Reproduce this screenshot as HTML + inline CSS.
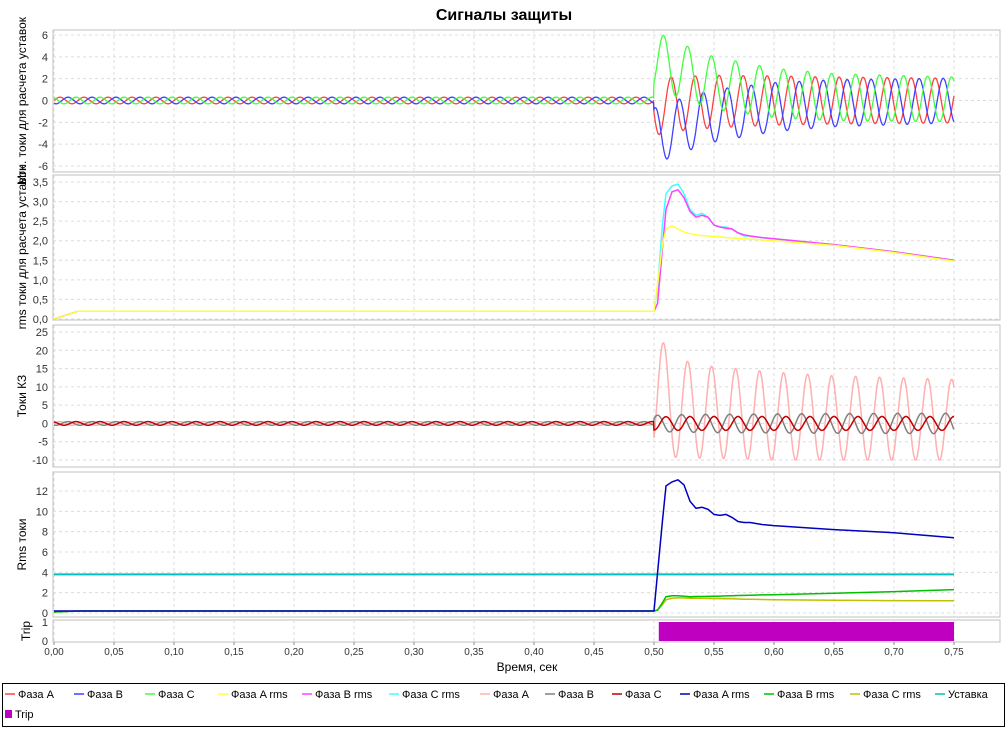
<!DOCTYPE html>
<html><head><meta charset="utf-8"><style>
body{margin:0;background:#fff;font-family:"Liberation Sans",sans-serif;}
svg text{font-family:"Liberation Sans",sans-serif;}
</style></head><body>
<svg id="c" width="1008" height="729" xmlns="http://www.w3.org/2000/svg">
<text x="504" y="20" text-anchor="middle" font-size="16" font-weight="bold">Сигналы защиты</text>
</svg>
<script>
const xTicks=["0,00","0,05","0,10","0,15","0,20","0,25","0,30","0,35","0,40","0,45","0,50","0,55","0,60","0,65","0,70","0,75"];
const envT=[0.5,0.52,0.55,0.6,0.65,0.75];
const p1Amp=[2.6,2.5,2.4,2.25,2.15,2.05];
const p1DcA=[-0.6,-0.3,-0.1,0,0,0];
const p1DcB=[-3.3,-2.4,-1.4,-0.6,-0.25,0];
const p1DcC=[3.8,2.8,1.6,0.7,0.3,0.1];
const p3PinkAmp=[16,13.5,12.5,12,11.5,11];
const p3PinkDc=[9,4,3,2,1.5,1];
const p3GrayAmp=[2.2,2.4,2.5,2.6,2.7,2.8];
const p3RedAmp=[1.8,1.9,1.9,1.9,1.9,1.9];
const rmsT=[0,0.02,0.5,0.503,0.507,0.51,0.515,0.52,0.525,0.53,0.535,0.54,0.545,0.55,0.555,0.56,0.565,0.57,0.575,0.58,0.59,0.6,0.65,0.7,0.75];
const rmsA=[0,0.2,0.2,0.9,1.9,2.3,2.38,2.3,2.22,2.18,2.15,2.13,2.12,2.1,2.1,2.08,2.07,2.06,2.05,2.04,2.02,2.0,1.88,1.7,1.48];
const rmsB=[0,0.2,0.2,0.4,1.8,2.8,3.25,3.3,3.1,2.75,2.6,2.65,2.6,2.4,2.35,2.32,2.3,2.2,2.15,2.12,2.08,2.05,1.9,1.72,1.5];
const rmsC=[0,0.2,0.2,0.8,2.4,3.2,3.4,3.45,3.2,2.8,2.65,2.7,2.6,2.4,2.35,2.35,2.3,2.2,2.12,2.12,2.08,2.05,1.9,1.72,1.5];
const kzA=[0.2,0.2,0.2,4,9,12.5,12.9,13.1,12.6,11,10.3,10.4,10.2,9.7,9.6,9.7,9.4,9,8.9,8.9,8.7,8.6,8.2,7.9,7.4];
const kzB=[0.1,0.2,0.2,0.3,1,1.6,1.7,1.7,1.65,1.6,1.62,1.62,1.63,1.65,1.66,1.68,1.7,1.72,1.73,1.75,1.78,1.8,1.95,2.1,2.3];
const kzC=[0.1,0.2,0.2,0.3,0.8,1.3,1.45,1.5,1.48,1.45,1.45,1.44,1.43,1.42,1.42,1.41,1.4,1.38,1.36,1.35,1.33,1.3,1.25,1.22,1.2];
const setpoint=3.8;
const tripOn=0.504, tripOff=0.75;
const panels=[
 {top:30,bot:172,min:-6,max:6,y0:166,y1:35,ticks:[-6,-4,-2,0,2,4,6],label:"Мгн. токи для расчета уставок"},
 {top:175,bot:320,min:0,max:3.5,y0:319,y1:182,ticks:[0,0.5,1,1.5,2,2.5,3,3.5],dec:1,label:"rms токи для расчета уставок"},
 {top:325,bot:467,min:-10,max:25,y0:460,y1:332,ticks:[-10,-5,0,5,10,15,20,25],label:"Токи КЗ"},
 {top:472,bot:617,min:0,max:12,y0:613,y1:491,ticks:[0,2,4,6,8,10,12],label:"Rms токи"},
 {top:620,bot:642,min:0,max:1,y0:641,y1:622,ticks:[0,1],label:"Trip"}];
const NS="http://www.w3.org/2000/svg",svg=document.getElementById('c');
function mk(t,a,p){const e=document.createElementNS(NS,t);for(const k in a)e.setAttribute(k,a[k]);(p||svg).appendChild(e);return e;}
const X=t=>54+t*1200;
const Y=(p,v)=>p.y0+(v-p.min)*(p.y1-p.y0)/(p.max-p.min);
function env(arr,t){if(t<=envT[0])return arr[0];for(let i=1;i<envT.length;i++)if(t<=envT[i]){const f=(t-envT[i-1])/(envT[i]-envT[i-1]);return arr[i-1]+f*(arr[i]-arr[i-1]);}return arr[arr.length-1];}
const W=2*Math.PI*50;
panels.forEach((p,i)=>{
 const g=mk('g',{});
 
 
 mk('rect',{x:53,y:p.top,width:947,height:p.bot-p.top,fill:'#fff',stroke:'#c0c0c0'},g);
 xTicks.forEach((s,k)=>{const x=X(k*0.05);mk('line',{x1:x,x2:x,y1:p.top,y2:p.bot,stroke:'#dcdcdc','stroke-dasharray':'3,3'},g);});
 p.ticks.forEach(v=>{const y=Y(p,v);
  if(i<4)mk('line',{x1:53,x2:1000,y1:y,y2:y,stroke:'#dcdcdc','stroke-dasharray':'3,3'},g);
  const t=mk('text',{x:48,y:y+4,'text-anchor':'end','font-size':11,fill:'#333'},g);
  
  
  t.textContent=p.dec?v.toFixed(1).replace('.',','):String(v);});
 const cy=(p.top+p.bot)/2;
 const lb=mk('text',{x:0,y:0,transform:`translate(${i==4?30:26},${cy}) rotate(-90)`,'text-anchor':'middle','font-size':12},g);
 
 
 lb.textContent=p.label;
});
function wave(p,pre,phPre,phPost,ampArr,dcArr,color,w,name){
 let d='';for(let t=0;t<=0.7501;t+=0.0004){let v;
  if(t<0.5)v=pre*Math.sin(W*t+phPre);else v=env(ampArr,t)*Math.sin(W*t+phPost)+(dcArr?env(dcArr,t):0);
  d+=(d?'L':'M')+X(t).toFixed(1)+' '+Y(p,v).toFixed(1);}
 const e=mk('path',{d,fill:'none',stroke:color,'stroke-width':w||1.3});
 
 }
function line(p,ts,vs,color,name,w){
 const d=ts.map((t,k)=>(k?'L':'M')+X(t).toFixed(1)+' '+Y(p,vs[k]).toFixed(1)).join('');
 const e=mk('path',{d,fill:'none',stroke:color,'stroke-width':w||1.5});
 
 }
const P=Math.PI,[p1,p2,p3,p4,p5]=panels;
wave(p1,0.3,0,1.067*P,p1Amp,p1DcA,'#ff4040',1.3,'phase-a-line');
wave(p1,0.3,-2*P/3,0.4*P,p1Amp,p1DcB,'#4040ff',1.3,'phase-b-line');
wave(p1,0.3,2*P/3,-0.3*P,p1Amp,p1DcC,'#40ff40',1.3,'phase-c-line');
line(p2,rmsT,rmsC,'#40ffff','phase-c-rms-line');
line(p2,rmsT,rmsB,'#ff40ff','phase-b-rms-line');
line(p2,rmsT,rmsA,'#ffff40','phase-a-rms-line');
wave(p3,0.5,0,-0.3*P,p3PinkAmp,p3PinkDc,'#ffb0b0',1.5,'fault-phase-a-line');
wave(p3,0.5,-2*P/3,0.2*P,p3GrayAmp,null,'#808080',1.5,'fault-phase-b-line');
wave(p3,0.5,2*P/3,-0.5*P,p3RedAmp,null,'#c00000',1.5,'fault-phase-c-line');
line(p4,[0,0.75],[setpoint,setpoint],'#00c0c0','setpoint-line',2);
line(p4,rmsT,kzC,'#c0c000','fault-phase-c-rms-line');
line(p4,rmsT,kzB,'#00c000','fault-phase-b-rms-line');
line(p4,rmsT,kzA,'#0000c0','fault-phase-a-rms-line');
const tr=mk('rect',{x:X(tripOn),y:Y(p5,1),width:X(tripOff)-X(tripOn),height:Y(p5,0)-Y(p5,1),fill:'#c000c0'});


xTicks.forEach((s,k)=>{const x=X(k*0.05);mk('line',{x1:x,x2:x,y1:642,y2:645,stroke:'#888'});
 const t=mk('text',{x,y:655,'text-anchor':'middle','font-size':10,fill:'#333'});
 
 
 t.textContent=s;});
const xt=mk('text',{x:527,y:671,'text-anchor':'middle','font-size':12});


xt.textContent='Время, сек';
const lg=mk('g',{});


mk('rect',{x:2.5,y:683.5,width:1002,height:43,fill:'#fff',stroke:'#000'},lg);
const legNames=["Фаза A","Фаза B","Фаза C","Фаза A rms","Фаза B rms","Фаза C rms","Фаза A","Фаза B","Фаза C","Фаза A rms","Фаза B rms","Фаза C rms","Уставка"];
const legColors=['#ff4040','#4040ff','#40ff40','#ffff40','#ff40ff','#40ffff','#ffb0b0','#808080','#c00000','#0000c0','#00c000','#c0c000','#00c0c0'];
const legX=[5,74,145,218,302,389,480,545,612,680,764,850,935];
legNames.forEach((n,k)=>{const e=mk('g',{},lg);
 
 
 mk('line',{x1:legX[k],x2:legX[k]+10,y1:694,y2:694,stroke:legColors[k],'stroke-width':1.5},e);
 const t=mk('text',{x:legX[k]+13,y:698,'font-size':11},e);t.textContent=n;});
const te=mk('g',{},lg);


mk('rect',{x:5,y:710,width:7,height:8,fill:'#c000c0'},te);
const tt=mk('text',{x:15,y:718,'font-size':11},te);tt.textContent='Trip';
</script>
</body></html>
